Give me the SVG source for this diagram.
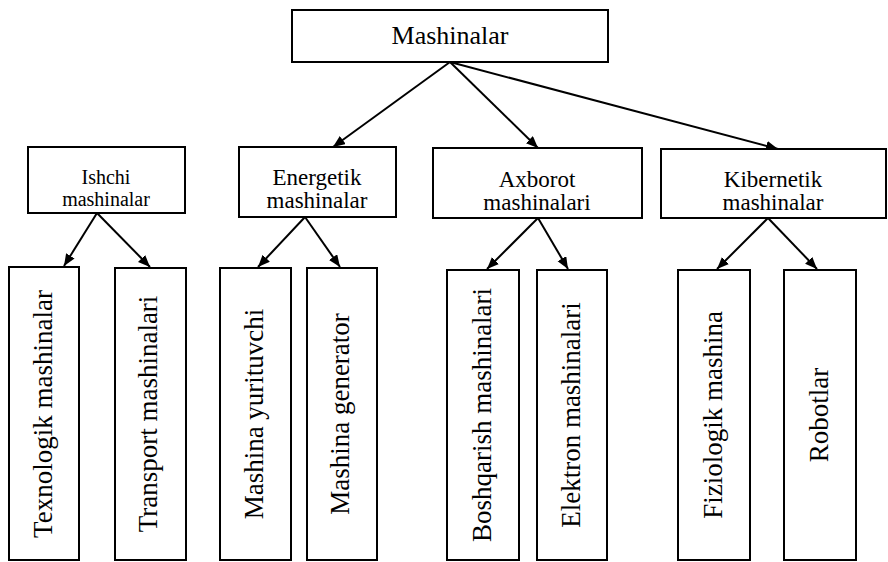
<svg xmlns="http://www.w3.org/2000/svg" width="888" height="562" viewBox="0 0 888 562">
<style>
rect.b{fill:#fff;stroke:#000;stroke-width:2}
text{font-family:"Liberation Serif","Times New Roman",serif;fill:#000}
.t0{font-size:26px;text-anchor:middle}
.t1{font-size:23px;text-anchor:middle}
.t1s{font-size:20px;text-anchor:middle}
.tv{font-size:27px;text-anchor:middle}
#connectors line{stroke:#000;stroke-width:2;marker-end:url(#ah)}
</style>
<defs>
<marker id="ah" markerUnits="userSpaceOnUse" markerWidth="14" markerHeight="12" refX="12" refY="5" orient="auto">
<path d="M0,0 L12,5 L0,10 Z" fill="#000"/>
</marker>
</defs>
<rect width="888" height="562" fill="#fff"/>
<g id="connectors">
<line x1="450" y1="62" x2="333" y2="147"/>
<line x1="450" y1="62" x2="538" y2="148"/>
<line x1="450" y1="62" x2="778" y2="149"/>
<line x1="97" y1="213" x2="64" y2="266"/>
<line x1="97" y1="213" x2="150" y2="267"/>
<line x1="305" y1="217" x2="258" y2="267"/>
<line x1="305" y1="217" x2="340" y2="267"/>
<line x1="538" y1="218" x2="487" y2="269"/>
<line x1="538" y1="218" x2="568" y2="269"/>
<line x1="768" y1="218" x2="717" y2="269"/>
<line x1="768" y1="218" x2="817" y2="269"/>
</g>
<g id="n-mashinalar"><rect class="b" x="292" y="10" width="316" height="52"/><text class="t0" x="450" y="44">Mashinalar</text></g>
<g id="n-ishchi"><rect class="b" x="28" y="147" width="157" height="66"/><text class="t1s" x="106" y="184">Ishchi</text><text class="t1s" x="106" y="206">mashinalar</text></g>
<g id="n-energetik"><rect class="b" x="239" y="147" width="157" height="70"/><text class="t1" x="317" y="185">Energetik</text><text class="t1" x="317" y="208">mashinalar</text></g>
<g id="n-axborot"><rect class="b" x="433" y="148" width="209" height="70"/><text class="t1" x="537" y="187">Axborot</text><text class="t1" x="537" y="210">mashinalari</text></g>
<g id="n-kibernetik"><rect class="b" x="661" y="149" width="225" height="69"/><text class="t1" x="773" y="187">Kibernetik</text><text class="t1" x="773" y="210">mashinalar</text></g>
<g id="n-texnologik"><rect class="b" x="9" y="267" width="70" height="293"/><text class="tv" transform="translate(52,414) rotate(-90)">Texnologik mashinalar</text></g>
<g id="n-transport"><rect class="b" x="115" y="268" width="71" height="292"/><text class="tv" transform="translate(157,414) rotate(-90)">Transport mashinalari</text></g>
<g id="n-yurituvchi"><rect class="b" x="220" y="268" width="71" height="292"/><text class="tv" transform="translate(263,414) rotate(-90)">Mashina yurituvchi</text></g>
<g id="n-generator"><rect class="b" x="307" y="268" width="70" height="292"/><text class="tv" transform="translate(349,414) rotate(-90)">Mashina generator</text></g>
<g id="n-boshqarish"><rect class="b" x="447" y="270" width="72" height="290"/><text class="tv" transform="translate(491,415) rotate(-90)">Boshqarish mashinalari</text></g>
<g id="n-elektron"><rect class="b" x="537" y="270" width="70" height="290"/><text class="tv" transform="translate(580,415) rotate(-90)">Elektron mashinalari</text></g>
<g id="n-fiziologik"><rect class="b" x="678" y="270" width="72" height="290"/><text class="tv" transform="translate(722,415) rotate(-90)">Fiziologik mashina</text></g>
<g id="n-robotlar"><rect class="b" x="784" y="270" width="72" height="290"/><text class="tv" transform="translate(828,415) rotate(-90)">Robotlar</text></g>
</svg>
